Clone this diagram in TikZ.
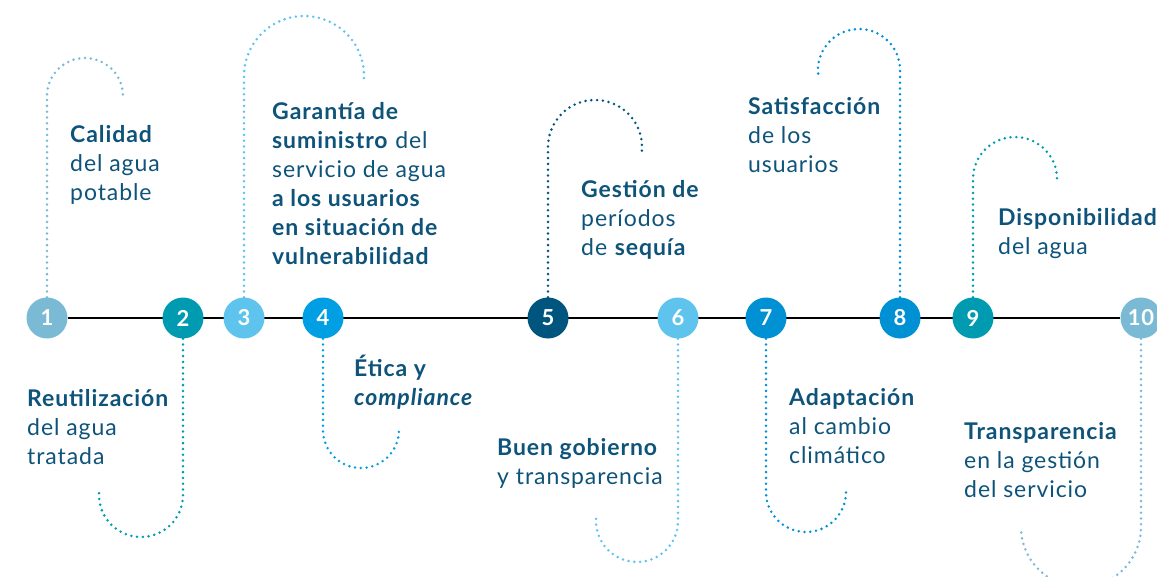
\documentclass[tikz,border=0pt]{standalone}
\usepackage{fontspec}
\setmainfont[LetterSpace=4]{Lato}
\usetikzlibrary{backgrounds}

\definecolor{cGrey}{HTML}{7BBAD5}
\definecolor{cTeal}{HTML}{009BB0}
\definecolor{cSky}{HTML}{5EC4EE}
\definecolor{cAzure}{HTML}{009FE3}
\definecolor{cNavy}{HTML}{00557E}
\definecolor{cBlue}{HTML}{0090D4}
\definecolor{cText}{HTML}{0E537A}

\begin{document}
\begin{tikzpicture}[x=1pt, y=1pt,
    num/.style={circle, minimum size=41pt, inner sep=0pt, text=white,
        font=\fontsize{22}{22}\selectfont\bfseries},
    dots/.style={line width=2.8pt, line cap=round, dash pattern=on 0pt off 5.8pt},
    txtbox/.style={anchor=north west, inner sep=0pt, align=left, text=cText,
        font=\fontsize{23}{29}\selectfont}]
\useasboundingbox (0,-258) rectangle (1157,318);

% timeline
\node[num, fill=cGrey]  (n1)  at (47,0)   {1};
\node[num, fill=cTeal]  (n2)  at (183,0)  {2};
\node[num, fill=cSky]   (n3)  at (244,0)  {3};
\node[num, fill=cAzure] (n4)  at (323,0)  {4};
\node[num, fill=cNavy]  (n5)  at (548,0)  {5};
\node[num, fill=cSky]   (n6)  at (678,0)  {6};
\node[num, fill=cBlue]  (n7)  at (766,0)  {7};
\node[num, fill=cBlue]  (n8)  at (900,0)  {8};
\node[num, fill=cTeal]  (n9)  at (973,0)  {9};
\node[num, fill=cGrey]  (n10) at (1141,0) {10};
\begin{scope}[on background layer]
  \draw[line width=2.6pt] (n1) -- (n10);
\end{scope}

% where the hooks turn
\coordinate (t1)  at (47,222);
\coordinate (t2)  at (183,-177);
\coordinate (t3)  at (244,242);
\coordinate (t4)  at (323,-112);
\coordinate (t5)  at (548,171);
\coordinate (t6)  at (678,-203);
\coordinate (t7)  at (766,-174);
\coordinate (t8)  at (900,248);
\coordinate (t9)  at (973,139);
\coordinate (t10) at (1141,-209);

\draw[dots, cGrey]  (n1.north) -- (t1) arc[start angle=180, end angle=-5, radius=38];
\draw[dots, cTeal]  (n2.south) -- (t2) arc[start angle=0, end angle=-185, radius=42];
\draw[dots, cSky]   (n3.north) -- (t3) arc[start angle=180, end angle=-5, radius=60];
\draw[dots, cAzure] (n4.south) -- (t4) arc[start angle=180, end angle=365, radius=38];
\draw[dots, cNavy]  (n5.north) -- (t5) arc[start angle=180, end angle=-8, radius=47];
\draw[dots, cSky]   (n6.south) -- (t6) arc[start angle=0, end angle=-185, radius=41];
\draw[dots, cBlue]  (n7.south) -- (t7) arc[start angle=180, end angle=365, radius=40];
\draw[dots, cBlue]  (n8.north) -- (t8) arc[start angle=0, end angle=185, radius=41];
\draw[dots, cTeal]  (n9.north) -- (t9) arc[start angle=180, end angle=-5, radius=42];
\draw[dots, cGrey]  (n10.south) -- (t10) arc[start angle=0, end angle=-180, radius=60];

% texts
\node[txtbox] (c1) at (70,193) {\textbf{Calidad}\\del agua\\potable};
\node[txtbox] (c2) at (27,-71) {\textbf{Reutilización}\\del agua\\tratada};
\node[txtbox] (c3) at (272,216) {\textbf{Garantía de}\\\textbf{suministro} del\\servicio de agua\\
    \textbf{a los usuarios}\\\textbf{en situación de}\\\textbf{vulnerabilidad}};
\node[txtbox] (c4) at (354,-37) {\textbf{Ética y}\\\textbf{\textit{compliance}}};
\node[txtbox] (c5) at (581,138) {\textbf{Gestión de}\\períodos\\de \textbf{sequía}};
\node[txtbox] (c6) at (497,-120) {\textbf{Buen gobierno}\\y transparencia};
\node[txtbox] (c7) at (789,-70) {\textbf{Adaptación}\\al cambio\\climático};
\node[txtbox] (c8) at (748,221) {\textbf{Satisfacción}\\de los\\usuarios};
\node[txtbox] (c9) at (998,110) {\textbf{Disponibilidad}\\del agua};
\node[txtbox] (c10) at (964,-104) {\textbf{Transparencia}\\en la gestión\\del servicio};
\end{tikzpicture}
\end{document}
